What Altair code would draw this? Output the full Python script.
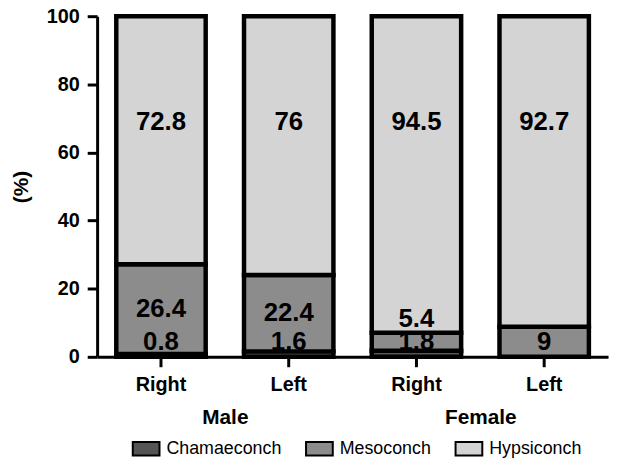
import altair as alt
import pandas as pd

groups = ["Male", "Male", "Female", "Female"]
sides = ["Right", "Left", "Right", "Left"]
categories = ["Chamaeconch", "Mesoconch", "Hypsiconch"]
chamaeconch = [0.8, 1.6, 1.8, 0.0]
mesoconch = [26.4, 22.4, 5.4, 9.0]
hypsiconch = [72.8, 76.0, 94.5, 92.7]
fills = ["#555555", "#8c8c8c", "#d4d4d4"]
y_ticks = [0, 20, 40, 60, 80, 100]

FONT = "Liberation Sans"

rows = []
for i, (g, s) in enumerate(zip(groups, sides)):
    key = f"{g}|{s}"
    for j, (cat, vals) in enumerate(zip(categories, [chamaeconch, mesoconch, hypsiconch])):
        rows.append(dict(key=key, group=g, side=s, cat=cat, order=j, value=vals[i]))
df = pd.DataFrame(rows)
keys = [f"{g}|{s}" for g, s in zip(groups, sides)]
group_names = list(dict.fromkeys(groups))

base = (
    alt.Chart(df)
    .transform_filter("datum.value > 0")
    .transform_joinaggregate(total="sum(value)", groupby=["key"])
    .transform_calculate(pct="datum.value / datum.total * 100")
    .transform_stack(stack="pct", groupby=["key"], as_=["y0", "y1"],
                     sort=[alt.SortField("order", order="ascending")])
    .transform_calculate(mid="(datum.y0 + datum.y1) / 2", h="datum.y1 - datum.y0")
    .transform_calculate(
        ly="datum.cat == 'Hypsiconch' ? 69 : (datum.cat == 'Mesoconch' && datum.h < 7 ? datum.y1 + 4 : max(datum.mid, 4.3))"
    )
)

x_axis = alt.Axis(
    title=None, orient="bottom", labelExpr="split(datum.label, '|')[1]", labelAngle=0,
    labelFontSize=20, labelFontWeight="bold", labelColor="black", labelPadding=8,
    tickSize=10, tickWidth=3, tickColor="black", domainWidth=3, domainColor="black",
)
y_axis = alt.Axis(
    title="(%)", values=y_ticks, grid=False, labelFontSize=20, labelFontWeight="bold",
    labelColor="black", labelPadding=8, tickSize=10, tickWidth=3, tickColor="black",
    domainWidth=3, domainColor="black", titleFontSize=21, titleFontWeight="bold",
    titleColor="black", titlePadding=15,
)
x_scale = alt.Scale(paddingInner=0.3, paddingOuter=0.15)
y_scale = alt.Scale(domain=[0, 100], nice=False)

bars = base.mark_bar(stroke="black", strokeWidth=4.5).encode(
    x=alt.X("key:N", sort=keys, scale=x_scale, axis=x_axis),
    y=alt.Y("y0:Q", scale=y_scale, axis=y_axis),
    y2="y1:Q",
    color=alt.Color(
        "cat:N",
        scale=alt.Scale(domain=categories, range=fills),
        legend=alt.Legend(
            title=None, orient="none", legendX=35, legendY=422, direction="horizontal",
            symbolType="M-1,-0.5H1V0.5H-1Z", symbolSize=729, symbolStrokeColor="black",
            symbolStrokeWidth=2, symbolOpacity=1, labelFontSize=18, labelFont=FONT,
            labelColor="black", columnPadding=20, labelOffset=6,
        ),
    ),
)

labels = base.mark_text(fontSize=26, fontWeight="bold", font=FONT, color="black").encode(
    x=alt.X("key:N", sort=keys, scale=x_scale, axis=x_axis),
    y=alt.Y("ly:Q", scale=y_scale, axis=y_axis),
    text=alt.Text("value:Q", format="~g"),
)

grp = alt.Chart(pd.DataFrame({"group": group_names})).mark_point(opacity=0).encode(
    x=alt.X(
        "group:N", sort=group_names, scale=alt.Scale(paddingInner=0, paddingOuter=0),
        axis=alt.Axis(
            title=None, orient="bottom", domain=False, ticks=False, labelPadding=50,
            labelFontSize=21, labelFontWeight="bold", labelColor="black", labelAngle=0,
        ),
    )
)

chart = (
    alt.layer(alt.layer(bars, labels), grp)
    .resolve_scale(x="independent")
    .properties(
        width=516, height=344, autosize="none",
        padding={"left": 90, "top": 6, "right": 5, "bottom": 110},
    )
    .configure_view(stroke=None)
    .configure_axis(labelFont=FONT, titleFont=FONT)
)

chart.save("out.html", embed_options={"renderer": "svg", "actions": False})
